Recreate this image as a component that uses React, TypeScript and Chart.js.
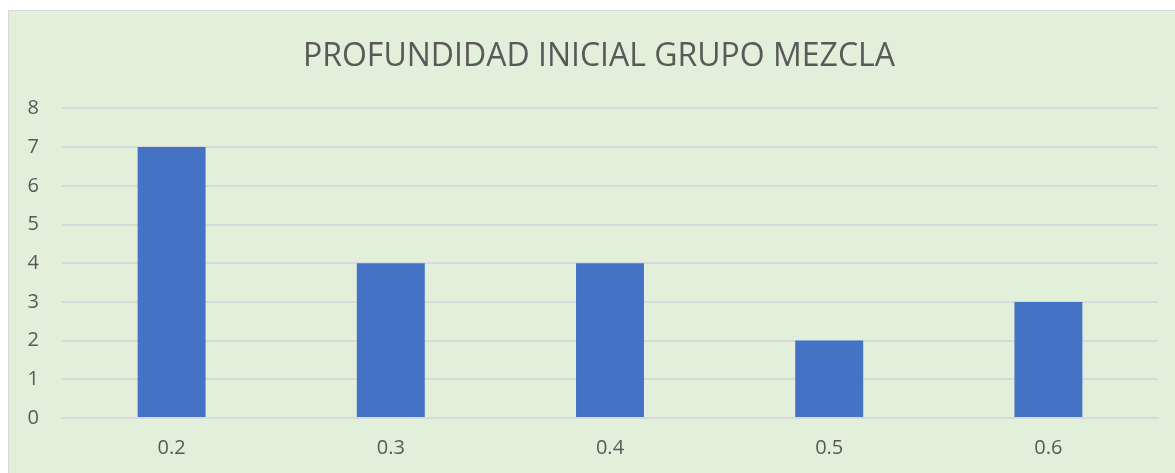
import React, { useEffect, useRef } from "react";
import { Chart, registerables } from "chart.js";

Chart.register(...registerables);

const categories = ["0.2", "0.3", "0.4", "0.5", "0.6"];
const values = [7, 4, 4, 2, 3];
const titleText = "PROFUNDIDAD INICIAL GRUPO MEZCLA";

const FONT = "'Open Sans', sans-serif";

export default function App() {
  const ref = useRef<HTMLCanvasElement | null>(null);

  useEffect(() => {
    document.documentElement.style.overflow = "hidden";
    document.body.style.overflow = "hidden";
    const chart = new Chart(ref.current as HTMLCanvasElement, {
      type: "bar",
      data: {
        labels: categories,
        datasets: [
          {
            data: values,
            backgroundColor: "#4472C4",
            barPercentage: 0.31,
            categoryPercentage: 1,
          },
        ],
      },
      options: {
        animation: false,
        responsive: false,
        maintainAspectRatio: false,
        layout: { padding: 0 },
        plugins: {
          legend: { display: false },
          tooltip: { enabled: false },
          title: {
            display: true,
            text: titleText,
            color: "#595959",
            font: { family: FONT, size: 32, weight: "normal" },
            padding: { top: 27, bottom: 32 },
          },
        },
        scales: {
          x: {
            grid: { display: false, drawTicks: false },
            border: { display: true, color: "#D9D9D9", width: 2 },
            ticks: {
              color: "#595959",
              font: { family: FONT, size: 20 },
              padding: 18,
            },
            afterFit: (s: any) => {
              s.height = 61;
            },
          },
          y: {
            min: 0,
            max: 8,
            ticks: {
              stepSize: 1,
              color: "#595959",
              font: { family: FONT, size: 20 },
              padding: 23,
            },
            grid: { color: "#D9D9D9", lineWidth: 2, drawTicks: false },
            border: { display: false },
            afterFit: (s: any) => {
              s.width = 53;
            },
          },
          yRight: {
            position: "right",
            min: 0,
            max: 8,
            grid: { display: false, drawTicks: false },
            border: { display: false },
            ticks: { display: false },
            afterFit: (s: any) => {
              s.width = 31;
            },
          },
        },
      },
    });
    return () => chart.destroy();
  }, []);

  return (
    <div
      style={{
        position: "absolute",
        left: 8,
        top: 10,
        width: 1182,
        height: 470,
        background: "#E2EFDA",
        border: "1px solid #D9D9D9",
        boxSizing: "border-box",
      }}
    >
      <canvas ref={ref} width={1180} height={468} style={{ display: "block" }} />
    </div>
  );
}
